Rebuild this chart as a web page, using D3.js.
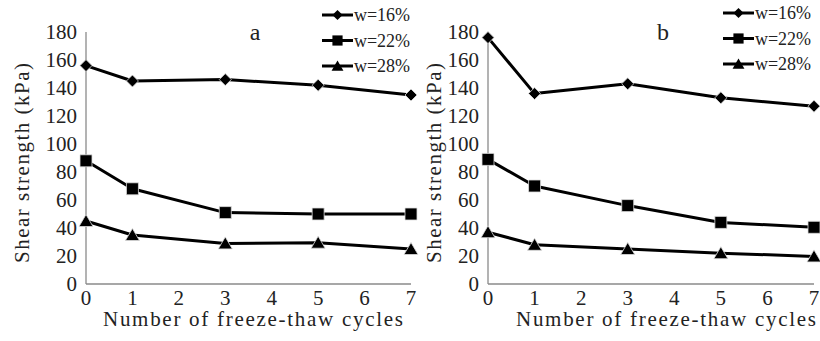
<!DOCTYPE html>
<html>
<head>
<meta charset="utf-8">
<script src="https://cdn.jsdelivr.net/npm/d3@7"></script>
</head>
<body style="margin:0">
<svg id="chart" width="820" height="341" style="font-family: Times New Roman"></svg>
<script>
// freeze-thaw cycles measured
var cycles = [0, 1, 3, 5, 7];
var xTicks = [0, 1, 2, 3, 4, 5, 6, 7];
var yTicks = [0, 20, 40, 60, 80, 100, 120, 140, 160, 180];
var seriesNames = ["w=16%", "w=22%", "w=28%"];
var markerTypes = ["diamond", "square", "triangle"];

// panel a
var a16 = [156, 145, 146, 142, 135];
var a22 = [88, 68, 51, 50, 50];
var a28 = [45, 35, 29, 29.5, 25];
// panel b
var b16 = [176, 136, 143, 133, 127];
var b22 = [89, 70, 56, 44, 40.5];
var b28 = [37, 28, 25, 22, 19.7];

var svg = d3.select("#chart");

function markerPath(type) {
  if (type == "diamond") return "M0,-6L6,0L0,6L-6,0Z";
  if (type == "square") return "M-6,-6H6V6H-6Z";
  return "M0,-6.5L7,5.5H-7Z";
}

function label(sel, size) {
  return sel.attr("font-family", "Times New Roman")
      .style("font-family", "Times New Roman")
      .style("font-size", size + "px")
      .attr("fill", "#222");
}

function drawPanel(opts) {
  var x = d3.scaleLinear().domain([0, 7]).range([opts.x0, opts.x1]);
  var y = d3.scaleLinear().domain([0, 180]).range([284, 32]);
  var g = svg.append("g");

  // axis lines without tick marks
  g.append("line")
      .attr("x1", x(0)).attr("x2", x(0)).attr("y1", y(180)).attr("y2", y(0))
      .attr("stroke", "#8a8a8a").attr("stroke-width", 1.3);
  g.append("line")
      .attr("x1", x(0)).attr("x2", x(7)).attr("y1", y(0)).attr("y2", y(0))
      .attr("stroke", "#8a8a8a").attr("stroke-width", 1.3);

  label(g.selectAll(".yt").data(yTicks).enter().append("text"), 21)
      .attr("x", x(0) - 9)
      .attr("y", function(d) { return y(d); })
      .attr("dy", "0.35em")
      .attr("text-anchor", "end")
      .text(function(d) { return d; });

  label(g.selectAll(".xt").data(xTicks).enter().append("text"), 21)
      .attr("x", function(d) { return x(d); })
      .attr("y", y(0) + 21)
      .attr("text-anchor", "middle")
      .text(function(d) { return d; });

  var line = d3.line()
      .x(function(d, i) { return x(cycles[i]); })
      .y(function(d) { return y(d); });

  opts.series.forEach(function(vals, k) {
    g.append("path")
        .datum(vals)
        .attr("fill", "none")
        .attr("stroke", "#000")
        .attr("stroke-width", 3)
        .attr("stroke-linejoin", "round")
        .attr("d", line);
    g.selectAll(".m" + k)
      .data(vals)
      .enter().append("path")
        .attr("transform", function(d, i) { return "translate(" + x(cycles[i]) + "," + y(d) + ")"; })
        .attr("d", markerPath(markerTypes[k]))
        .attr("fill", "#000")
        .attr("stroke", "#ddd")
        .attr("stroke-width", 0.8);
  });

  // axis titles
  label(g.append("text"), 21)
      .attr("transform", "translate(" + opts.yTitleX + ",163) rotate(-90)")
      .attr("text-anchor", "middle")
      .attr("dy", "0.35em")
      .attr("textLength", 200)
      .attr("lengthAdjust", "spacing")
      .text("Shear strength (kPa)");

  label(g.append("text"), 21)
      .attr("x", opts.xTitleX)
      .attr("y", 326)
      .attr("textLength", 300)
      .attr("lengthAdjust", "spacing")
      .text("Number of freeze-thaw cycles");

  // panel letter
  label(g.append("text"), 24)
      .attr("x", opts.letterX)
      .attr("y", 40)
      .attr("text-anchor", "middle")
      .text(opts.letter);

  // legend
  var lg = g.append("g").attr("transform", "translate(" + opts.legX + "," + opts.legY + ")");
  seriesNames.forEach(function(name, k) {
    var row = lg.append("g").attr("transform", "translate(0," + k * 25.5 + ")");
    row.append("line").attr("x1", 0).attr("x2", 31).attr("stroke", "#000").attr("stroke-width", 3);
    row.append("path").attr("transform", "translate(15.5,0) scale(0.85)")
        .attr("d", markerPath(markerTypes[k])).attr("fill", "#000");
    label(row.append("text"), 18)
        .attr("x", 32).attr("dy", "0.35em")
        .attr("textLength", 56).attr("lengthAdjust", "spacing")
        .text(name);
  });
}

drawPanel({ x0: 86, x1: 411, series: [a16, a22, a28], yTitleX: 22, xTitleX: 103,
            letter: "a", letterX: 255, legX: 322, legY: 15 });
drawPanel({ x0: 488, x1: 814, series: [b16, b22, b28], yTitleX: 434, xTitleX: 516,
            letter: "b", letterX: 663, legX: 723, legY: 13 });
</script>
</body>
</html>
